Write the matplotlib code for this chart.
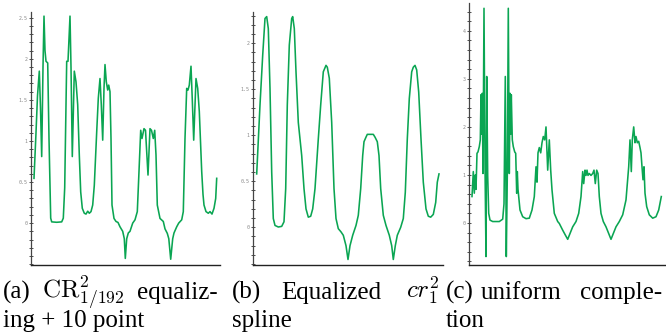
import matplotlib
matplotlib.use("Agg")
import matplotlib.pyplot as plt
from matplotlib.ticker import FixedLocator
import numpy as np

plt.rcParams['mathtext.fontset'] = 'cm'

# ---------------- data ----------------
xa = [0, 2, 3.5, 5.3, 6.5, 7.7, 9, 10, 11, 12, 13.7, 15, 16.7, 17.7, 22.7, 27.7, 29.3, 30.7, 32, 32.7,
      34, 36, 37, 38.3, 40.3, 42, 43.7, 45.3, 46.7, 48.3, 50.3, 52, 53.7, 55.3, 57, 58.7, 60.3, 62.7,
      64.3, 66, 67.3, 68.7, 70, 71, 72.3, 73.7, 74.7, 76, 77, 78, 80, 82, 84, 86, 88.7, 90.3, 91.3,
      92.7, 94.3, 96, 98.7, 101, 103.3, 105, 106.7, 108, 110, 111.5, 114, 116, 117.5, 119.3, 120.7,
      122, 123.3, 126, 129.3, 131, 133.3, 134.8, 136.7, 138.7, 140, 142.7, 144.7, 147.7, 149.3, 151,
      152.7, 154, 155.3, 157, 158.3, 159.7, 162, 163.7, 165.3, 167.7, 169, 170, 172, 174.3, 176, 178,
      180, 181.7, 182.7]
ya = [0.545, 1.1, 1.55, 1.85, 1.4, 0.81, 1.9, 2.52, 2.1, 1.97, 1.95, 1.03, 0.06, 0.015, 0.01, 0.015,
      0.06, 0.43, 1.44, 1.97, 1.97, 2.52, 1.9, 0.81, 1.85, 1.72, 1.44, 0.83, 0.38, 0.18, 0.12, 0.11,
      0.145, 0.12, 0.14, 0.22, 0.46, 1.11, 1.52, 1.76, 1.44, 1.01, 1.64, 1.93, 1.72, 1.62, 1.68, 1.6,
      1.03, 0.22, 0.057, 0.02, 0.008, -0.045, -0.1, -0.19, -0.43, -0.19, -0.12, -0.1, 0.0, 0.04, 0.14,
      0.63, 1.13, 1.03, 1.15, 1.13, 0.585, 1.15, 1.13, 1.03, 1.13, 0.83, 0.22, 0.057, 0.02, -0.07,
      -0.125, -0.19, -0.44, -0.19, -0.12, -0.045, 0.0, 0.04, 0.14, 1.03, 1.64, 1.62, 1.68, 1.91, 1.5,
      1.01, 1.76, 1.64, 1.36, 0.63, 0.35, 0.22, 0.14, 0.12, 0.14, 0.11, 0.18, 0.3, 0.545]

xb = [0, 3.3, 6, 8.3, 10, 11.6, 13.3, 15, 16.6, 18.3, 21.6, 25, 27.3, 29, 30.6, 32.6, 35, 36, 37.6,
      39.3, 41.6, 45, 47.3, 49.3, 51.6, 54, 56, 58.3, 61.6, 64, 66.6, 69.3, 70.6, 72.6, 75, 77.3,
      79.3, 81.6, 84.3, 86.6, 89.3, 91.3, 93.3, 96, 99.3, 101.6, 104, 106, 107.3, 109.3, 110.6,
      116.6, 118.3, 120.6, 122.3, 124, 126.6, 129.3, 132.6, 135, 136.6, 138.6, 140.6, 144, 146.6,
      148.6, 150.6, 152.6, 155, 156.6, 158.3, 160, 162, 164.3, 166.6, 169.3, 171.6, 174, 176.6,
      179, 180.6, 182.3]
yb = [0.58, 1.33, 1.87, 2.27, 2.29, 2.16, 1.51, 0.6, 0.095, 0.02, 0.003, 0.01, 0.06, 0.42, 1.33,
      1.98, 2.27, 2.29, 2.16, 1.69, 1.14, 0.78, 0.42, 0.2, 0.11, 0.12, 0.2, 0.42, 0.96, 1.33, 1.69,
      1.76, 1.74, 1.62, 1.14, 0.42, 0.095, -0.015, -0.05, -0.087, -0.2, -0.35, -0.2, -0.087, 0.02,
      0.13, 0.42, 0.78, 0.93, 0.98, 1.01, 1.01, 0.98, 0.93, 0.78, 0.42, 0.13, 0.02, -0.087, -0.2,
      -0.35, -0.2, -0.087, 0.0, 0.095, 0.38, 0.96, 1.4, 1.69, 1.74, 1.76, 1.71, 1.47, 0.96, 0.49,
      0.2, 0.12, 0.11, 0.14, 0.27, 0.49, 0.58]

xc = [0, 1.3, 2.3, 3.3, 4, 5, 6, 7.3, 8.3, 9, 9.7, 10.3, 11, 12, 13, 14, 14.7, 15.7, 16.7, 18,
      20.7, 27.3, 30.7, 32, 33.3, 34.3, 35.3, 36.3, 37.3, 38, 38.7, 39.3, 40.3, 41.3, 42.7, 43.7,
      44.7, 45.3, 46, 48, 50.7, 54, 57.3, 60, 62.3, 64, 65, 66, 67.3, 68.7, 70, 71.3, 72.7, 74,
      75.7, 77.3, 78.7, 80, 82.3, 85.7, 87.3, 90.7, 93.3, 95.7, 98, 100.7, 104, 106.7, 109, 110.7,
      111.7, 113, 114, 115, 116, 117.3, 119, 120.7, 122, 123.3, 124.7, 126, 127.3, 129, 131.3, 134,
      136.7, 139, 141.3, 144, 147.3, 150.7, 154, 156.7, 158, 159.3, 160.3, 161.7, 163, 164, 165.3,
      166.7, 168, 169, 170, 171, 172, 173, 174.7, 177.3, 180.7, 184, 186.7, 189.3]
yc = [0.55, 1.07, 0.62, 1.0, 0.7, 1.45, 1.48, 1.59, 1.73, 2.67, 1.85, 2.7, 1.03, 4.47, 1.2, -0.7,
      3.05, 0.98, 0.2, 0.06, 0.03, 0.03, 0.08, 0.4, 3.05, -0.7, 0.98, 4.47, 1.03, 2.7, 1.85, 2.67,
      1.73, 1.59, 1.48, 1.45, 0.62, 1.07, 0.7, 0.27, 0.13, 0.09, 0.1, 0.27, 0.55, 1.17, 0.85, 1.46,
      1.57, 1.46, 1.67, 1.8, 1.73, 2.0, 1.1, 1.73, 1.1, 0.69, 0.2, 0.03, -0.01, -0.15, -0.25, -0.34,
      -0.22, -0.08, 0.03, 0.2, 0.55, 1.07, 0.82, 1.1, 0.99, 1.1, 0.99, 1.03, 0.99, 1.03, 1.1, 0.82,
      1.1, 1.03, 0.55, 0.2, 0.03, -0.08, -0.22, -0.34, -0.22, -0.08, 0.03, 0.17, 0.48, 1.17, 1.73,
      1.07, 1.73, 2.0, 1.67, 1.8, 1.67, 1.7, 1.57, 1.46, 1.17, 0.9, 1.17, 0.62, 0.34, 0.17, 0.1,
      0.13, 0.27, 0.55]

ticks_a = [0, 0.5, 1, 1.5, 2, 2.5]
labels_a = ["0", "0.5", "1", "1.5", "2", "2.5"]
ticks_b = [0, 0.5, 1, 1.5, 2]
labels_b = ["0", "0.5", "1", "1.5", "2"]
ticks_c = [0, 1, 2, 3, 4]
labels_c = ["0", "1", "2", "3", "4"]

GREEN = '#0aa552'

W, H = 666, 333
fig = plt.figure(figsize=(W / 100, H / 100), dpi=100)


def frac_rect(x0, x1, ytop, ybot):
    return [x0 / W, 1 - ybot / H, (x1 - x0) / W, (ybot - ytop) / H]


panels = [
    (frac_rect(31, 220, 12, 265), xa, ya, (-3, 186), (-0.51, 2.57), ticks_a, labels_a, 0.1, (-0.5, 2.55)),
    (frac_rect(253, 443, 12, 265), xb, yb, (-3.7, 186.3), (-0.41, 2.34), ticks_b, labels_b, 0.1, (-0.4, 2.3)),
    (frac_rect(469, 665, 3, 265), xc, yc, (-3, 193), (-0.875, 4.58), ticks_c, labels_c, 0.2, (-0.8, 4.5)),
]

for rect, x, y, xl, yl, tk, tl, mstep, mrange in panels:
    ax = fig.add_axes(rect)
    ax.plot(x, y, color=GREEN, lw=1.15, solid_joinstyle='round')
    ax.set_xlim(*xl)
    ax.set_ylim(*yl)
    for s in ['top', 'right']:
        ax.spines[s].set_visible(False)
    ax.spines['left'].set_color('#444444')
    ax.spines['left'].set_linewidth(0.9)
    ax.spines['bottom'].set_color('#222222')
    ax.spines['bottom'].set_linewidth(1.0)
    ax.set_xticks([])
    ax.set_yticks(tk)
    ax.set_yticklabels(tl, fontsize=3.6, color='#8a8a8a', family='DejaVu Sans Mono')
    minors = np.round(np.arange(mrange[0], mrange[1] + 1e-9, mstep), 3)
    ax.yaxis.set_minor_locator(FixedLocator(minors))
    ax.tick_params(axis='y', which='both', direction='inout', length=2.6, width=0.6,
                   color='#333333', pad=1.0)
    ax.patch.set_visible(False)

# ---------------- captions ----------------
FS = 18
fam = 'Liberation Serif'
y1 = 1 - 299 / H
y2 = 1 - 327 / H


def t(xp, yf, s, ha='left'):
    fig.text(xp / W, yf, s, fontsize=FS, family=fam, ha=ha, va='baseline', color='black')


t(3, y1, "(a)")
t(42, y1, r"$\mathrm{CR}^2_{1/192}$")
t(218, y1, "equaliz-", ha='right')
t(3, y2, "ing + 10 point")

t(232, y1, "(b)")
t(281, y1, "Equalized")
t(440, y1, r"$cr_1^2$", ha='right')
t(232, y2, "spline")

t(446, y1, "(c)")
t(481, y1, "uniform")
t(662, y1, "comple-", ha='right')
t(446, y2, "tion")

fig.savefig("out.png", dpi=100)
